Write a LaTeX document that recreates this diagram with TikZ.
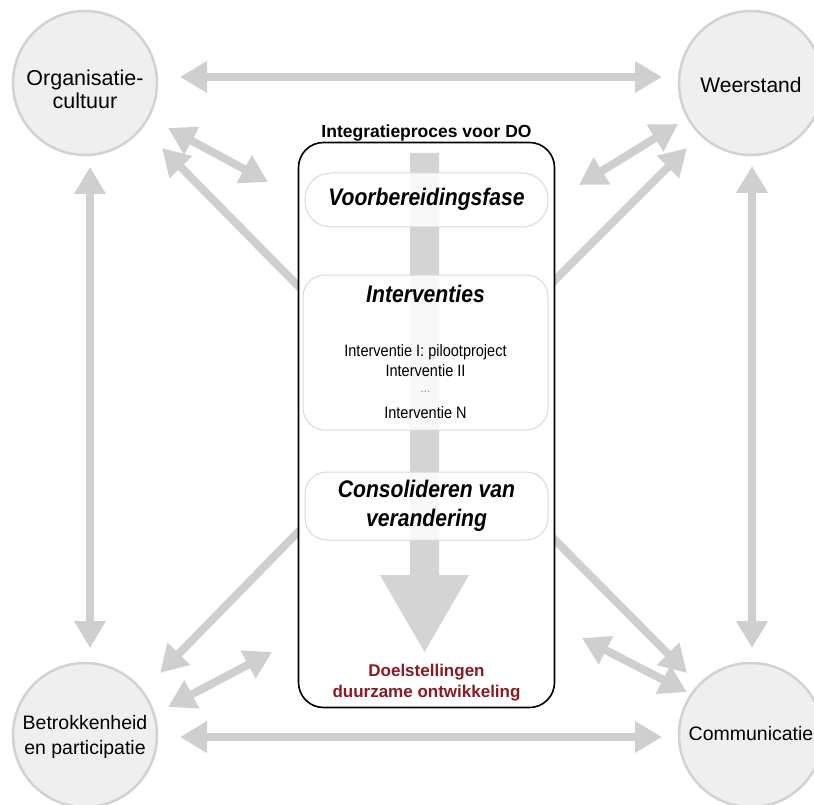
\documentclass[tikz,border=0pt]{standalone}
\usepackage{fontspec}
\setmainfont{Liberation Sans}
\newfontfamily\narrowfont[FakeStretch=0.88]{Liberation Sans}
\usetikzlibrary{arrows.meta}
\definecolor{arrgray}{HTML}{CFCFCF}
\definecolor{circfill}{HTML}{EFEFEF}
\definecolor{circline}{HTML}{D2D2D2}
\definecolor{boxline}{HTML}{DADADA}
\definecolor{inarrow}{HTML}{D4D4D4}
\definecolor{darkred}{HTML}{8B1A22}
\tikzset{
  factor/.style={circle, draw=circline, line width=2.5pt, fill=circfill, minimum size=144pt, inner sep=0pt},
  factortext/.style={align=center, inner sep=0pt},
  fat/.style={draw=arrgray, line width=8pt, -{Triangle[width=30pt,length=27pt]}},
  fatboth/.style={draw=arrgray, line width=8pt, {Triangle[width=30pt,length=27pt]}-{Triangle[width=30pt,length=27pt]}},
  phase/.style={draw=boxline, line width=1pt, fill=white, fill opacity=0.85, text opacity=1, rounded corners=24pt, align=center, inner sep=0pt},
  phasetitle/.style={font=\narrowfont\bfseries\itshape\fontsize{24}{29}\selectfont},
}
\begin{document}
\begin{tikzpicture}[x=1pt,y=-1pt]
\useasboundingbox (0,0) rectangle (814,805);
% factor circles
\node[factor] (oc) at (85,83) {};
\node[factor] (we) at (751,83) {};
\node[factor] (bp) at (85,735) {};
\node[factor] (co) at (751,735) {};
\node[factortext, font=\fontsize{21.5}{23}\selectfont] (octxt) at (85,89) {Organisatie-\\cultuur};
\node[factortext, font=\fontsize{21}{23}\selectfont] (wetxt) at (751,85) {Weerstand};
\node[factortext, font=\fontsize{19.5}{24.5}\selectfont] (bptxt) at (85,737) {Betrokkenheid\\en participatie};
\node[factortext, font=\fontsize{19.5}{23}\selectfont] (cotxt) at (751,734) {Communicatie};
% arrow endpoints
\coordinate (t1) at (180,77);  \coordinate (t2) at (662,77);
\coordinate (b1) at (180,737); \coordinate (b2) at (662,737);
\coordinate (l1) at (90,167);  \coordinate (l2) at (90,648);
\coordinate (r1) at (752,166); \coordinate (r2) at (752,648);
\coordinate (tlls) at (300,288); \coordinate (tlle) at (162,148);
\coordinate (tls1) at (168,128); \coordinate (tls2) at (268,182);
\coordinate (trs1) at (579,185); \coordinate (trs2) at (678,124);
\coordinate (trls) at (550,285); \coordinate (trle) at (687,148);
\coordinate (blls) at (300,530); \coordinate (blle) at (160,673);
\coordinate (bls1) at (168,707); \coordinate (bls2) at (272,652);
\coordinate (brls) at (550,535); \coordinate (brle) at (687,673);
\coordinate (brs1) at (582,638); \coordinate (brs2) at (687,692);
% arrows
\draw[fatboth] (t1) -- (t2);
\draw[fatboth] (b1) -- (b2);
\draw[fatboth] (l1) -- (l2);
\draw[fatboth] (r1) -- (r2);
\draw[fat] (tlls) -- (tlle);
\draw[fatboth] (tls1) -- (tls2);
\draw[fatboth] (trs1) -- (trs2);
\draw[fat] (trls) -- (trle);
\draw[fat] (blls) -- (blle);
\draw[fatboth] (bls1) -- (bls2);
\draw[fat] (brls) -- (brle);
\draw[fatboth] (brs1) -- (brs2);
% process box
\node[draw=black, line width=1.6pt, rounded corners=25pt, fill=white, minimum width=256pt, minimum height=565pt, inner sep=0pt] (proc) at (426.5,425) {};
\node[anchor=base, font=\bfseries\fontsize{17.5}{20}\selectfont] (ptitle) at (426.5,138) {Integratieproces voor DO};
% inner flow arrow
\fill[inarrow] (410,153) -- (439,153) -- (439,575) -- (469,575) -- (424.5,652) -- (380,575) -- (410,575) -- cycle;
% phases
\node[phase, minimum width=243pt, minimum height=54pt, rounded corners=26pt] (vb) at (426.5,200) {};
\node[phasetitle] (vbt) at (426.5,199) {Voorbereidingsfase};
\node[phase, minimum width=245pt, minimum height=155pt, rounded corners=22pt] (iv) at (425.5,352.5) {};
\node[phasetitle] (ivt) at (425.5,294) {Interventies};
\node[font=\narrowfont\fontsize{16.5}{20}\selectfont, align=center] (ivl) at (425.5,361) {Interventie I: pilootproject\\Interventie II};
\node[font=\fontsize{12}{12}\selectfont, text=gray] (ivd) at (425.5,392) {...};
\node[font=\narrowfont\fontsize{16.5}{20}\selectfont] (ivn) at (425.5,413) {Interventie N};
\node[phase, minimum width=243pt, minimum height=68pt, rounded corners=22pt] (cv) at (426.5,506) {};
\node[phasetitle, align=center] (cvt) at (426.5,506) {Consolideren van\\verandering};
% goal
\node[font=\bfseries\fontsize{17}{21}\selectfont, text=darkred, align=center] (goal) at (426.5,683) {Doelstellingen\\duurzame ontwikkeling};
\end{tikzpicture}
\end{document}
